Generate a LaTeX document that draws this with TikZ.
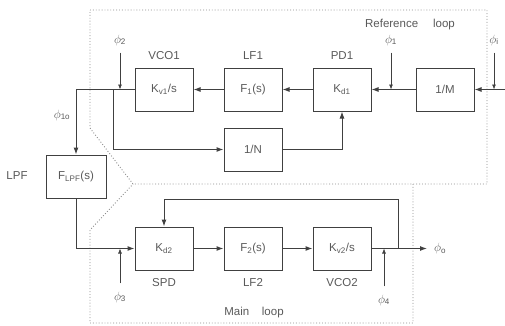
\documentclass[tikz,border=0pt]{standalone}
\usepackage{fontspec}
\setmainfont{Liberation Sans}
\usetikzlibrary{arrows.meta, positioning}

\newcommand{\phs}[1]{$\phi$\textsubscript{#1}}

\begin{document}
\begin{tikzpicture}[
			x=1pt, y=1pt,
			font=\fontsize{11.5}{13}\selectfont,
			node distance=30pt,
			block/.style={rectangle, minimum width=58pt, minimum height=43pt, inner sep=2pt, draw=black!75, line width=1pt, text=black!65},
			tag/.style={text=black!65, inner sep=2pt},
			arrow/.style={->, >={Latex[length=7pt,width=5pt]}, draw=black!75, line width=1pt},
			inject/.style={->, >={Latex[length=5pt,width=4pt]}, draw=black!75, line width=0.7pt},
			region/.style={draw=black!45, dotted, line width=0.9pt}
		]
		\useasboundingbox (0,0) rectangle (505,325);

		% --- CONFINI DEI LOOP ---
		\draw [region] (90,315) -- (487,315) -- (487,141) -- (133,141) -- (90,197) -- cycle;
		\draw [region] (413,141) -- (413,2) -- (90,2) -- (90,95) -- (133,141);
		\node (ref_lbl) [tag] at (410,300) {Reference\hspace{1.3em}loop};
		\node (main_lbl) [tag] at (254,12) {Main\hspace{1.1em}loop};

		% --- REFERENCE LOOP ---
		\node (vco1) [block] at (164,235.5) {K\textsubscript{v1}/s};
		\node (lf1) [block, right=of vco1] {F\textsubscript{1}(s)};
		\node (pd1) [block, right=of lf1] {K\textsubscript{d1}};
		\node (divm) [block, right=44pt of pd1] {1/M};
		\node (divn) [block, below=16pt of lf1] {1/N};
		\node (vco1_lbl) [tag, above=6pt of vco1] {VCO1};
		\node (lf1_lbl) [tag, above=6pt of lf1] {LF1};
		\node (pd1_lbl) [tag, above=6pt of pd1] {PD1};

		% Filtro passa basso
		\node (lpf) [block, minimum width=60pt] at (76,148.5) {F\textsubscript{LPF}(s)};
		\node (lpf_lbl) [tag] at (17,149) {LPF};
		\node (phi_1o) [tag] at (62,210) {\phs{1o}};

		% --- MAIN LOOP ---
		\node (spd) [block] at (164,76.5) {K\textsubscript{d2}};
		\node (lf2) [block, right=of spd] {F\textsubscript{2}(s)};
		\node (vco2) [block, right=of lf2] {K\textsubscript{v2}/s};
		\node (spd_lbl) [tag, below=6pt of spd] {SPD};
		\node (lf2_lbl) [tag, below=6pt of lf2] {LF2};
		\node (vco2_lbl) [tag, below=6pt of vco2] {VCO2};

		% Ingressi e uscita
		\coordinate (in) at (505,235.5);
		\coordinate (out) at (427,76.5);
		\node (phi_o) [tag, right=5pt of out] {\phs{o}};
		\node (phi_i) [tag] at (494,285) {\phs{i}};
		\node (phi_1) [tag] at (391,285) {\phs{1}};
		\node (phi_2) [tag] at (120,285) {\phs{2}};
		\node (phi_3) [tag] at (120,28) {\phs{3}};
		\node (phi_4) [tag] at (384,25) {\phs{4}};
		\coordinate (split1) at (113,235.5);
		\coordinate (split2) at (398,76.5);
		\coordinate (fb) at (398,126);

		% --- COLLEGAMENTI ---
		% Reference loop
		\draw [arrow] (in) -- (divm);
		\draw [arrow] (divm) -- (pd1);
		\draw [arrow] (pd1) -- (lf1);
		\draw [arrow] (lf1) -- (vco1);
		\draw [arrow] (vco1.west) -| (lpf.north);
		\draw [arrow] (split1) |- (divn);
		\draw [arrow] (divn) -| (pd1);

		% Main loop
		\draw [arrow] (lpf) |- (spd);
		\draw [arrow] (spd) -- (lf2);
		\draw [arrow] (lf2) -- (vco2);
		\draw [arrow] (vco2) -- (out);
		\draw [arrow] (split2) -- (fb) -| (spd);

		% Disturbi di fase
		\draw [inject] ([yshift=-5pt]phi_i.south) -- (phi_i |- in);
		\draw [inject] ([yshift=-5pt]phi_1.south) -- (phi_1 |- in);
		\draw [inject] ([yshift=-5pt]phi_2.south) -- (phi_2 |- in);
		\draw [inject] ([yshift=6pt]phi_3.north) -- (phi_3 |- spd);
		\draw [inject] ([yshift=6pt]phi_4.north) -- (phi_4 |- spd);
	\end{tikzpicture}
\end{document}
